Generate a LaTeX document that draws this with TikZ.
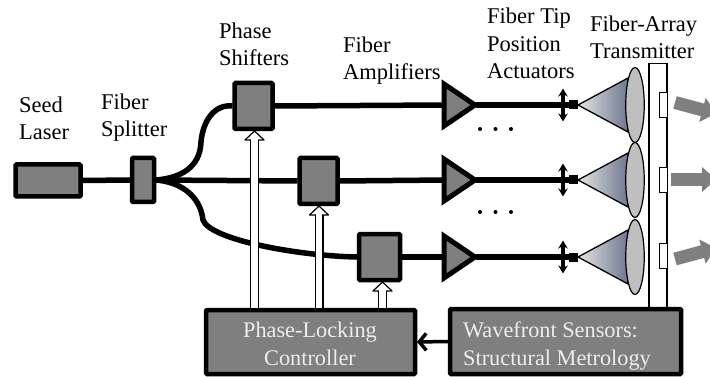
\documentclass[tikz,border=0pt]{standalone}
\usepackage{fontspec}
\setmainfont{Liberation Serif}
\usetikzlibrary{arrows.meta,calc,shapes.geometric}
\definecolor{boxgray}{HTML}{7F7F7F}
\definecolor{conedark}{HTML}{6E7790}
\definecolor{lensgray}{HTML}{BFBFBF}
\definecolor{boxtext}{HTML}{EDEDED}
\tikzset{
  blk/.style={draw=black,line width=4.5pt,fill=boxgray,rounded corners=1pt,inner sep=0pt,outer sep=2pt},
  tag/.style={font=\fontsize{22.5}{27.5}\selectfont,align=left,inner sep=0pt,anchor=base west},
  fiber/.style={line width=5.5pt},
  amp/.style={draw=black,line width=5pt,fill=boxgray,line join=miter},
  actu/.style={line width=3.5pt,{Stealth[length=8pt,width=9.5pt]}-{Stealth[length=8pt,width=9.5pt]}},
  tipblk/.style={fill=black,minimum width=9pt,minimum height=9pt,inner sep=0pt},
  cone/.style={draw=black,line width=1.3pt,line join=round,left color=gray!20,right color=conedark},
  lens/.style={draw=black,line width=1.2pt,fill=lensgray,ellipse,minimum width=18.5pt,minimum height=75pt,inner sep=0pt},
  beam/.style={line width=13pt,draw=boxgray,-{Triangle[length=14pt,width=24pt]}},
  pt/.style={circle,fill=black,minimum size=4pt,inner sep=0pt},
  wtext/.style={text=boxtext,font=\fontsize{22.3}{28}\selectfont,inner sep=0pt}
}
\newcommand{\hollowarrow}[2]{%
  \draw[black,line width=9pt] (#1) -- ($(#2)+(0,8)$);
  \draw[black,fill=white,line width=1.2pt,line join=round] (#2) -- ++(9.5,9) -- ++(-19,0) -- cycle;
  \draw[white,line width=6.4pt] (#1) -- ($(#2)+(0,6)$);
}
\begin{document}
\begin{tikzpicture}[x=1pt,y=-1pt]
\useasboundingbox (0,0) rectangle (710,377);
\fill[white] (0,0) rectangle (710,377);

% transmitter bar
\node[draw=black,line width=1.2pt,fill=white,minimum width=18pt,minimum height=244pt,inner sep=0pt] (bar) at (658,185.5) {};
\foreach \n/\y in {a/105,b/180,c/256}{
  \node[draw=black,line width=1.1pt,fill=white,minimum width=8pt,minimum height=25pt,inner sep=0pt] (win\n) at (663.5,\y) {};
}

% boxes
\node[blk,minimum width=65pt,minimum height=32pt] (laser) at (48,180.5) {};
\node[blk,minimum width=22pt,minimum height=44pt] (split) at (143,180) {};
\node[blk,minimum width=38pt,minimum height=46pt] (ps1) at (253.5,106) {};
\node[blk,minimum width=38pt,minimum height=46pt] (ps2) at (318.5,181) {};
\node[blk,minimum width=41pt,minimum height=46pt] (ps3) at (379.5,257) {};
\node[blk,minimum width=209pt,minimum height=64pt] (ctrl) at (310.5,342) {};
\node[blk,minimum width=231pt,minimum height=65pt] (wave) at (565.5,341.5) {};
\node[wtext,align=center,anchor=base] (ctrltxt) at (310,365) {Phase-Locking\\Controller};
\node[wtext,align=left,anchor=base west] (wavetxt) at (463,365) {Wavefront Sensors:\\Structural Metrology};

% amplifiers, actuators, tips, cones, lenses
\foreach \n/\y in {a/105,b/180,c/257}{
  \coordinate (ampin\n) at (446,\y);
  \coordinate (ampout\n) at (476,\y);
  \node[tipblk] (tip\n) at (573.5,\y) {};
  \coordinate (acta\n) at (563,\y-16.5);
  \coordinate (actb\n) at (563,\y+16.5);
  \coordinate (cone\n) at (578,\y);
  \draw[cone] (cone\n) -- (628,\y-27) -- (628,\y+27) -- cycle;
  \node[lens] (lens\n) at (635,\y) {};
  \draw[fiber] (ampout\n) -- (tip\n.west);
  \draw[actu] (acta\n) -- (actb\n);
}

% fibers
\draw[fiber] (laser.east) -- (split.west);
\draw[fiber] (split.east) -- (ps2.west);
\draw[fiber] (split.east) .. controls (180,178) and (200,168) .. (201,142) .. controls (203,120) and (215,104) .. (ps1.west);
\draw[fiber] (split.east) .. controls (180,182) and (200,195) .. (203,220) .. controls (210,240) and (300,256) .. (ps3.west);
\draw[fiber] (ps1.east) -- (ampina);
\draw[fiber] (ps2.east) -- (ampinb);
\draw[fiber] (ps3.east) -- (ampinc);
\foreach \y in {105,180,257}{
  \draw[amp] (444,\y-21) -- (475,\y) -- (444,\y+21) -- cycle;
}

% control arrows
\coordinate (c1) at (254.5,308);
\coordinate (c2) at (319,308);
\coordinate (c3) at (382.5,308);
\hollowarrow{c1}{c1 |- ps1.south}
\hollowarrow{c2}{c2 |- ps2.south}
\hollowarrow{c3}{c3 |- ps3.south}
\draw[line width=3.5pt,-{Straight Barb[length=7pt,width=17pt]}] (wave.west) -- (ctrl.east);

% beams
\coordinate (bea) at (675,102.5);
\coordinate (eea) at (716,113.5);
\coordinate (beb) at (671,179.5);
\coordinate (eeb) at (716,179.5);
\coordinate (bec) at (675,259);
\coordinate (eec) at (716,248);
\draw[beam] (bea) -- (eea);
\draw[beam] (beb) -- (eeb);
\draw[beam] (bec) -- (eec);

% dots
\foreach \n/\x/\y in {a/480/129,b/495.5/129,c/511/129,d/480/212,e/495.5/212,f/511/212}{
  \node[pt] (dot\n) at (\x,\y) {};
}

% labels
\node[tag] (lseed) at (19,140) {Seed\\Laser};
\node[tag] (lsplit) at (101,137) {Fiber\\Splitter};
\node[tag] (lps) at (219,66) {Phase\\Shifters};
\node[tag] (lamp) at (343,80) {Fiber\\Amplifiers};
\node[tag] (lact) at (487,79) {Fiber Tip\\Position\\Actuators};
\node[tag] (ltx) at (590,59) {Fiber-Array\\Transmitter};
\end{tikzpicture}
\end{document}
